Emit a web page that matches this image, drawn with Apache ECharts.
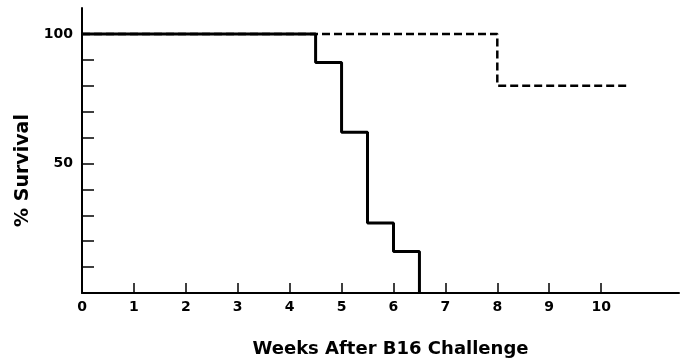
<!DOCTYPE html>
<html>
<head>
<meta charset="utf-8">
<script src="https://cdn.jsdelivr.net/npm/echarts@6/dist/echarts.min.js"></script>
<style>
  html, body { margin: 0; padding: 0; background: #fff; }
  #chart { width: 691px; height: 362px; }
</style>
</head>
<body>
<div id="chart"></div>
<script>
// solid line: survival steps (weeks where the value changes)
const treatedWeeks = [0, 4.5, 5, 5.5, 6, 6.5]
const treatedSurvival = [100, 89, 62, 27, 16, 0]
// dashed line
const controlWeeks = [0, 8, 10.5]
const controlSurvival = [100, 80, 80]

const xTickValues = [1, 2, 3, 4, 5, 6, 7, 8, 9, 10]
const xLabelValues = [0, 1, 2, 3, 4, 5, 6, 7, 8, 9, 10]
const yTickValues = [10, 20, 30, 40, 50, 60, 70, 80, 90, 100]
const yLabelValues = [50, 100]

const fontFamily = 'DejaVu Sans'

var myChart = echarts.init(document.getElementById('chart'))

var option = {
  animation: false,
  backgroundColor: '#fff',
  grid: { left: 82, right: 12, top: 8, bottom: 69, outerBoundsMode: 'none' },
  xAxis: {
    type: 'value',
    min: 0,
    max: 11.5,
    interval: 1,
    name: 'Weeks After B16 Challenge',
    nameLocation: 'middle',
    nameGap: 47,
    nameTextStyle: {
      color: '#000', fontFamily: fontFamily, fontWeight: 'bold', fontSize: 18,
      padding: [0, 0, 0, 20]
    },
    axisLine: { lineStyle: { color: '#000', width: 2 } },
    axisTick: {
      show: true, inside: true, length: 10, customValues: xTickValues,
      lineStyle: { color: '#000', width: 1.5 }
    },
    axisLabel: {
      customValues: xLabelValues, margin: 7,
      color: '#000', fontFamily: fontFamily, fontWeight: 'bold', fontSize: 14
    },
    splitLine: { show: false }
  },
  yAxis: {
    type: 'value',
    min: 0,
    max: 110,
    interval: 10,
    name: '% Survival',
    nameLocation: 'middle',
    nameGap: 47,
    nameTextStyle: {
      color: '#000', fontFamily: fontFamily, fontWeight: 'bold', fontSize: 19,
      padding: [0, 40, 0, 0]
    },
    axisLine: { show: true, lineStyle: { color: '#000', width: 2 } },
    axisTick: {
      show: true, inside: true, length: 12, customValues: yTickValues,
      lineStyle: { color: '#000', width: 1.5 }
    },
    axisLabel: {
      customValues: yLabelValues, margin: 9,
      color: '#000', fontFamily: fontFamily, fontWeight: 'bold', fontSize: 14
    },
    splitLine: { show: false }
  },
  series: [
    {
      name: 'control',
      type: 'line',
      step: 'end',
      symbol: 'none',
      z: 2,
      lineStyle: { color: '#000', width: 2.5, type: [8, 4] },
      data: controlWeeks.map((w, i) => [w, controlSurvival[i]])
    },
    {
      name: 'treated',
      type: 'line',
      step: 'end',
      symbol: 'none',
      z: 3,
      lineStyle: { color: '#000', width: 3 },
      data: treatedWeeks.map((w, i) => [w, treatedSurvival[i]])
    }
  ]
}

myChart.setOption(option)
</script>
</body>
</html>
